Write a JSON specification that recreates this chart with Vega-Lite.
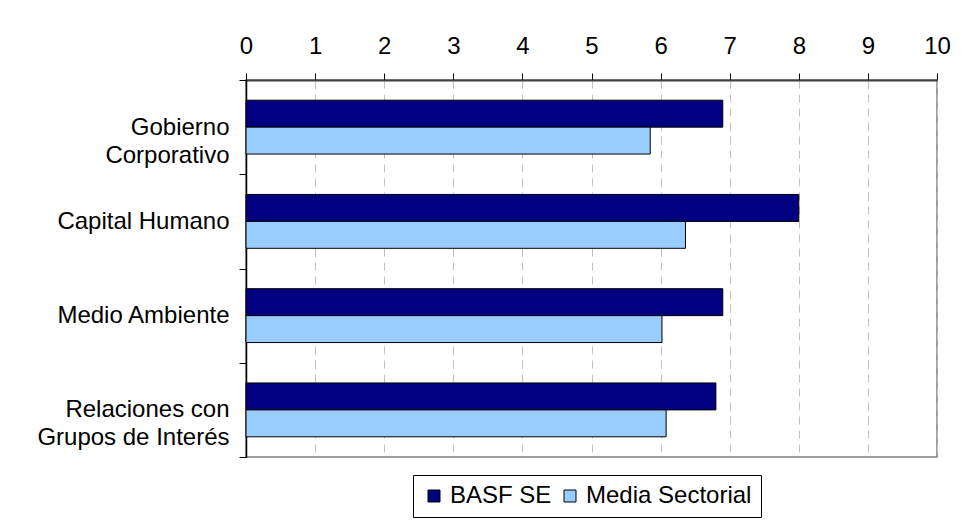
{
  "$schema": "https://vega.github.io/schema/vega-lite/v6.json",
  "autosize": {"type": "none"},
  "width": 691,
  "height": 377,
  "padding": {"left": 246, "top": 80, "right": 31, "bottom": 68},
  "background": "white",
  "data": {
    "values": [
      {"category": "Gobierno Corporativo", "series": "BASF SE", "value": 6.9},
      {"category": "Gobierno Corporativo", "series": "Media Sectorial", "value": 5.85},
      {"category": "Capital Humano", "series": "BASF SE", "value": 8.0},
      {"category": "Capital Humano", "series": "Media Sectorial", "value": 6.36},
      {"category": "Medio Ambiente", "series": "BASF SE", "value": 6.9},
      {"category": "Medio Ambiente", "series": "Media Sectorial", "value": 6.02},
      {"category": "Relaciones con Grupos de Interés", "series": "BASF SE", "value": 6.8},
      {"category": "Relaciones con Grupos de Interés", "series": "Media Sectorial", "value": 6.08}
    ]
  },
  "mark": {"type": "bar", "stroke": "black", "strokeWidth": 1},
  "encoding": {
    "y": {
      "field": "category",
      "type": "nominal",
      "sort": null,
      "scale": {"paddingInner": 0, "paddingOuter": 0},
      "axis": {
        "title": null,
        "tickBand": "extent",
        "tickSize": 7,
        "tickColor": "black",
        "domainColor": "black",
        "domainWidth": 1.5,
        "labelFont": "Liberation Sans",
        "labelFontSize": 24,
        "labelColor": "black",
        "labelPadding": 10,
        "labelLineHeight": 28,
        "labelLimit": 400,
        "labelExpr": "datum.value == 'Gobierno Corporativo' ? ['Gobierno\u00a0\u00a0', 'Corporativo\u00a0'] : datum.value == 'Relaciones con Grupos de Interés' ? ['Relaciones con\u00a0\u00a0', 'Grupos de Interés'] : datum.label"
      }
    },
    "yOffset": {
      "field": "series",
      "type": "nominal",
      "sort": ["BASF SE", "Media Sectorial"],
      "scale": {"paddingInner": 0, "paddingOuter": 0.75}
    },
    "x": {
      "field": "value",
      "type": "quantitative",
      "scale": {"domain": [0, 10], "nice": false, "zero": true},
      "axis": {
        "orient": "top",
        "title": null,
        "values": [0, 1, 2, 3, 4, 5, 6, 7, 8, 9, 10],
        "format": "d",
        "grid": true,
        "gridColor": "#c0c0c0",
        "gridDash": [8, 6],
        "gridWidth": 1,
        "tickSize": 7,
        "tickColor": "black",
        "domainColor": "#404040",
        "domainWidth": 2,
        "labelFont": "Liberation Sans",
        "labelFontSize": 24,
        "labelColor": "black",
        "labelPadding": 15,
        "labelFlush": false,
        "labelOverlap": false
      }
    },
    "color": {
      "field": "series",
      "type": "nominal",
      "scale": {"domain": ["BASF SE", "Media Sectorial"], "range": ["#000080", "#99ccff"]},
      "legend": {
        "title": null,
        "orient": "none",
        "legendX": 167,
        "legendY": 395,
        "direction": "horizontal",
        "symbolType": "square",
        "symbolSize": 144,
        "symbolStrokeColor": "black",
        "symbolStrokeWidth": 1,
        "symbolOpacity": 1,
        "labelFont": "Liberation Sans",
        "labelFontSize": 24,
        "labelColor": "black",
        "labelOffset": 4,
        "labelLimit": 300,
        "columnPadding": 6,
        "padding": 9,
        "strokeColor": "black",
        "fillColor": "white"
      }
    }
  },
  "config": {
    "view": {"stroke": "#808080", "strokeWidth": 1.5},
    "axis": {"grid": false}
  }
}
